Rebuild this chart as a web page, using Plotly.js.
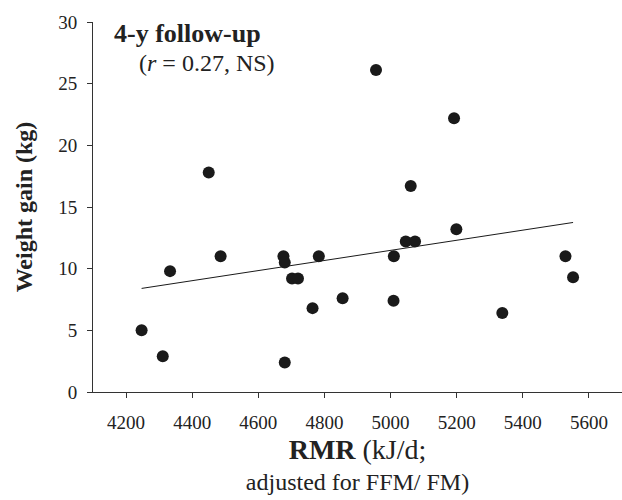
<!DOCTYPE html>
<html>
<head>
<meta charset="utf-8">
<script src="https://cdn.plot.ly/plotly-3.0.1.min.js"></script>
<style>html,body{margin:0;padding:0;background:#fff;}#chart{width:622px;height:500px;}</style>
</head>
<body>
<div id="chart"></div>
<script>
// RMR (kJ/d; adjusted for FFM/FM)
var rmr = [4247, 4311, 4333, 4450, 4486, 4676, 4680, 4680, 4702, 4720, 4764, 4783,
           4855, 4956, 5009, 5010, 5046, 5061, 5074, 5192, 5199, 5338, 5529, 5552];
// Weight gain (kg)
var weightGain = [5.0, 2.9, 9.8, 17.8, 11.0, 11.0, 10.5, 2.4, 9.2, 9.2, 6.8, 11.0,
                  7.6, 26.1, 7.4, 11.0, 12.2, 16.7, 12.2, 22.2, 13.2, 6.4, 11.0, 9.3];
var xTicks = [4200, 4400, 4600, 4800, 5000, 5200, 5400, 5600];
var yTicks = [0, 5, 10, 15, 20, 25, 30];

// least-squares fit
var n = rmr.length, mx = 0, my = 0;
for (var i = 0; i < n; i++) { mx += rmr[i]; my += weightGain[i]; }
mx /= n; my /= n;
var sxy = 0, sxx = 0;
for (var i = 0; i < n; i++) { sxy += (rmr[i]-mx)*(weightGain[i]-my); sxx += (rmr[i]-mx)*(rmr[i]-mx); }
var slope = sxy / sxx, intercept = my - slope * mx;
var xmin = Math.min.apply(null, rmr), xmax = Math.max.apply(null, rmr);
var fitX = [xmin, xmax];
var fitY = fitX.map(function (v) { return intercept + slope * v; });

var FONT = "Liberation Serif, Times New Roman, serif";

var traces = [
  { x: fitX, y: fitY, type: "scatter", mode: "lines",
    line: { color: "#1a1a1a", width: 1 }, hoverinfo: "skip", showlegend: false },
  { x: rmr, y: weightGain, type: "scatter", mode: "markers",
    marker: { color: "#1a1a1a", size: 12 }, showlegend: false }
];

var layout = {
  width: 622, height: 500,
  margin: { l: 93, r: 0, t: 22, b: 108 },
  paper_bgcolor: "#fff", plot_bgcolor: "#fff",
  font: { family: FONT, color: "#222", size: 19 },
  showlegend: false,
  xaxis: {
    range: [4100, 5700], tickvals: xTicks, ticktext: xTicks.map(String),
    showgrid: false, zeroline: false, showline: true, linecolor: "#333", linewidth: 1,
    ticks: "outside", ticklen: 5, tickcolor: "#333", ticklabelstandoff: 8,
    tickfont: { family: FONT, size: 19, color: "#222" },
    title: { text: "<span style=\"font-size:28px\"><b>RMR</b> (kJ/d;</span><br>adjusted for FFM/ FM)",
             font: { family: FONT, size: 24, color: "#222" }, standoff: 10 }
  },
  yaxis: {
    range: [0, 30], tickvals: yTicks, ticktext: yTicks.map(String),
    showgrid: false, zeroline: false, showline: true, linecolor: "#333", linewidth: 1,
    ticks: "outside", ticklen: 5, tickcolor: "#333", ticklabelstandoff: 6,
    tickfont: { family: FONT, size: 19, color: "#222" },
    title: { text: "<b>Weight gain (kg)</b>", font: { family: FONT, size: 24, color: "#222" }, standoff: 18 }
  },
  annotations: [
    { xref: "paper", yref: "paper", x: 0.035, y: 0.97, xanchor: "left", yanchor: "middle",
      text: "<b>4-y follow-up</b>", showarrow: false, font: { family: FONT, size: 26, color: "#222" } },
    { xref: "paper", yref: "paper", x: 0.084, y: 0.889, xanchor: "left", yanchor: "middle",
      text: "(<i>r</i> = 0.27, NS)", showarrow: false, font: { family: FONT, size: 24, color: "#222" } }
  ]
};

Plotly.newPlot("chart", traces, layout, { displayModeBar: false, staticPlot: true });
</script>
</body>
</html>
